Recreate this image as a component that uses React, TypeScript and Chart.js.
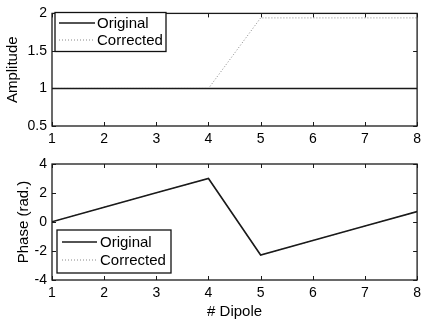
import { useEffect, useRef } from "react";
import { Chart, registerables } from "chart.js";

Chart.register(...registerables);

const dipoles = [1, 2, 3, 4, 5, 6, 7, 8];
const amplitudeOriginal = [1, 1, 1, 1, 1, 1, 1, 1];
const amplitudeCorrected = [1, 1, 1, 1, 1.94, 1.94, 1.94, 1.94];
const phaseOriginal = [0.02, 1.02, 2.02, 3.0, -2.28, -1.28, -0.28, 0.72];
const phaseCorrected = [0.02, 1.02, 2.02, 3.0, -2.28, -1.28, -0.28, 0.72];
const xTicks = [1, 2, 3, 4, 5, 6, 7, 8];
const amplitudeTicks = [0.5, 1, 1.5, 2];
const phaseTicks = [-4, -2, 0, 2, 4];
const seriesNames = ["Original", "Corrected"];

const FONT = "'Liberation Sans', Arial, Helvetica, sans-serif";

const framePlugin = {
  id: "frameLegend",
  afterDraw(chart: any, _args: any, opts: any) {
    const { ctx, chartArea: a, scales } = chart;
    ctx.save();
    ctx.strokeStyle = "#1a1a1a";
    ctx.lineWidth = 1;
    const tl = 4;
    ctx.beginPath();
    scales.x.ticks.forEach((t: any) => {
      const px = Math.round(scales.x.getPixelForValue(t.value)) + 0.5;
      ctx.moveTo(px, a.bottom);
      ctx.lineTo(px, a.bottom - tl);
      ctx.moveTo(px, a.top);
      ctx.lineTo(px, a.top + tl);
    });
    scales.y.ticks.forEach((t: any) => {
      const py = Math.round(scales.y.getPixelForValue(t.value)) + 0.5;
      ctx.moveTo(a.left, py);
      ctx.lineTo(a.left + tl, py);
      ctx.moveTo(a.right, py);
      ctx.lineTo(a.right - tl, py);
    });
    ctx.stroke();
    ctx.lineWidth = 1.3;
    ctx.strokeRect(a.left, a.top, a.right - a.left, a.bottom - a.top);

    // legend
    const [bx, by, bw, bh] = opts.box;
    ctx.fillStyle = "#ffffff";
    ctx.fillRect(bx, by, bw, bh);
    ctx.lineWidth = 1.3;
    ctx.strokeStyle = "#111";
    ctx.strokeRect(bx, by, bw, bh);
    ctx.font = `${opts.fontSize}px ${FONT}`;
    ctx.textBaseline = "middle";
    ctx.textAlign = "left";
    chart.data.datasets.forEach((ds: any, i: number) => {
      const y = opts.rows[i];
      ctx.beginPath();
      ctx.strokeStyle = ds.borderColor;
      ctx.lineWidth = ds.borderWidth;
      ctx.setLineDash(ds.borderDash || []);
      ctx.moveTo(opts.sample[0], y);
      ctx.lineTo(opts.sample[1], y);
      ctx.stroke();
      ctx.setLineDash([]);
      ctx.fillStyle = "#000";
      ctx.fillText(ds.label, opts.textX, y + 1);
    });
    ctx.restore();
  },
};

function makeConfig(
  orig: number[],
  corr: number[],
  yTicks: number[],
  yMin: number,
  yMax: number,
  yTitle: string,
  yTitlePad: number,
  padTop: number,
  padBottom: number,
  xHeight: number,
  xTitle: string | null,
  legend: any
): any {
  return {
    type: "line",
    data: {
      datasets: [
        {
          label: seriesNames[0],
          data: dipoles.map((d, i) => ({ x: d, y: orig[i] })),
          borderColor: "#1a1a1a",
          borderWidth: 1.6,
          pointRadius: 0,
          tension: 0,
        },
        {
          label: seriesNames[1],
          data: dipoles.map((d, i) => ({ x: d, y: corr[i] })),
          borderColor: "#888888",
          borderWidth: 1,
          borderDash: [1, 2],
          pointRadius: 0,
          tension: 0,
        },
      ],
    },
    options: {
      animation: false,
      responsive: false,
      devicePixelRatio: 1,
      layout: { padding: { top: padTop, bottom: padBottom, left: 0, right: 4 } },
      plugins: {
        legend: { display: false },
        tooltip: { enabled: false },
        frameLegend: legend,
      },
      scales: {
        x: {
          type: "linear",
          min: 1,
          max: 8,
          grid: { display: false, drawTicks: false },
          border: { display: false },
          afterBuildTicks: (s: any) => {
            s.ticks = xTicks.map((v) => ({ value: v }));
          },
          afterFit: (s: any) => {
            s.height = xHeight;
          },
          ticks: {
            color: "#000",
            padding: 5,
            maxRotation: 0,
            autoSkip: false,
            font: { family: FONT, size: 14 },
            callback: (v: any) => String(v),
          },
          title: xTitle
            ? {
                display: true,
                text: xTitle,
                color: "#000",
                font: { family: FONT, size: 15 },
                padding: { top: 0, bottom: 1 },
              }
            : { display: false },
        },
        y: {
          type: "linear",
          min: yMin,
          max: yMax,
          grid: { display: false, drawTicks: false },
          border: { display: false },
          afterBuildTicks: (s: any) => {
            s.ticks = yTicks.map((v) => ({ value: v }));
          },
          afterFit: (s: any) => {
            s.width = 52;
          },
          ticks: {
            color: "#000",
            padding: 5,
            autoSkip: false,
            font: { family: FONT, size: 14 },
            callback: (v: any) => String(v),
          },
          title: {
            display: true,
            text: yTitle,
            color: "#000",
            font: { family: FONT, size: 15 },
            padding: { top: yTitlePad, bottom: 0 },
          },
        },
      },
    },
    plugins: [framePlugin],
  };
}

export default function App() {
  const topRef = useRef<HTMLCanvasElement>(null);
  const botRef = useRef<HTMLCanvasElement>(null);

  useEffect(() => {
    const c1 = new Chart(
      topRef.current!,
      makeConfig(
        amplitudeOriginal,
        amplitudeCorrected,
        amplitudeTicks,
        0.5,
        2,
        "Amplitude",
        4,
        9,
        161,
        35,
        null,
        { box: [55, 12.5, 111, 39], sample: [59, 95], textX: 97, rows: [23, 40], fontSize: 15 }
      )
    );
    const c2 = new Chart(
      botRef.current!,
      makeConfig(
        phaseOriginal,
        phaseCorrected,
        phaseTicks,
        -4,
        4,
        "Phase (rad.)",
        15,
        164,
        0,
        42,
        "# Dipole",
        { box: [57, 230, 114, 43], sample: [62, 97], textX: 100, rows: [242, 260], fontSize: 15 }
      )
    );
    return () => {
      c1.destroy();
      c2.destroy();
    };
  }, []);

  const style: any = { position: "absolute", left: 0, top: 0, width: 426, height: 322 };
  return (
    <div style={{ position: "fixed", left: 0, top: 0, width: 426, height: 322, background: "#fff" }}>
      <canvas ref={topRef} width={426} height={322} style={style} />
      <canvas ref={botRef} width={426} height={322} style={style} />
    </div>
  );
}
